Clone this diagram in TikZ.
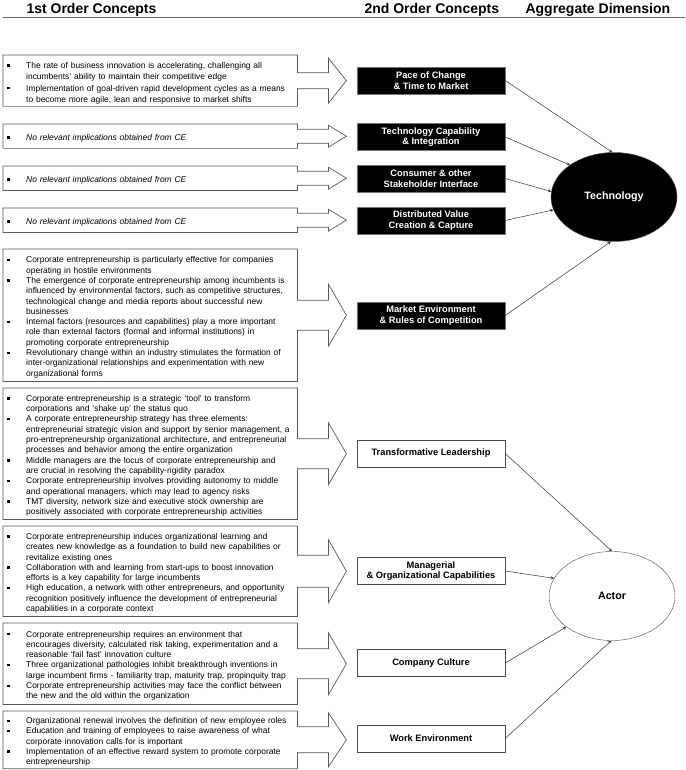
\documentclass[tikz,border=0pt]{standalone}
\usepackage{fontspec}
\setmainfont{Liberation Sans}
\usetikzlibrary{shapes.geometric, arrows, calc}

\newcommand{\bitem}[1]{\par\noindent\hangindent=19pt\hangafter=1\makebox[19pt][l]{\rule[1.6pt]{2.4pt}{2.4pt}}#1\par}
\newcommand{\blockarrow}[3]{%
  \draw[boxline] (#1.north west) -- (#1.north east) -- ($(#1.east)+(0,-#2)$)
    -- ($(#1.east)+(31,-#2)$) -- ($(#1.east)+(31,-#3)$) -- ($(#1.east)+(49,0)$)
    -- ($(#1.east)+(31,#3)$) -- ($(#1.east)+(31,#2)$) -- ($(#1.east)+(0,#2)$)
    -- (#1.south east) -- (#1.south west) -- cycle;}

\begin{document}
\begin{tikzpicture}[x=1pt, y=-1pt, >=stealth,
  boxline/.style={draw=black!65, line width=0.7pt},
  firstbox/.style={anchor=north west, text width=286pt, inner xsep=4pt, inner ysep=2pt,
    font=\fontsize{8.45}{10.3}\selectfont},
  blackbox/.style={draw=black!55, fill=black, text=white, minimum width=148pt, minimum height=27pt,
    inner sep=1pt, align=center, font=\bfseries\fontsize{9.3}{10.7}\selectfont},
  whitebox/.style={blackbox, draw=black!70, fill=white, text=black},
  dimnode/.style={ellipse, draw=black!70, minimum width=126pt, minimum height=89pt,
    font=\bfseries\fontsize{10.7}{12}\selectfont},
  link/.style={->, draw=black!80, line width=0.5pt}]
\useasboundingbox (0,0) rectangle (685,770);

% Headings
\node[anchor=base west, font=\bfseries\fontsize{14}{16}\selectfont] (head1) at (23,14) {1st Order Concepts};
\node[anchor=base west, font=\bfseries\fontsize{14}{16}\selectfont] (head2) at (361,14) {2nd Order Concepts};
\node[anchor=base west, font=\bfseries\fontsize{14}{16}\selectfont] (head3) at (522,14) {Aggregate Dimension};
\draw[black!60, line width=1pt] (3,18) -- (685,18);

% 1st order concepts, technology
\node[firstbox, minimum height=50pt, font=\fontsize{8.45}{11.3}\selectfont] (c1) at (3,55) {%
\bitem{The rate of business innovation is accelerating, challenging all\newline incumbents' ability to maintain their competitive edge}
\bitem{Implementation of goal-driven rapid development cycles as a means\newline to become more agile, lean and responsive to market shifts}};
\blockarrow{c1}{8}{22.5}
\node[firstbox, minimum height=24pt] (c2) at (3,124) {\bitem{\textit{No relevant implications obtained from CE}}};
\blockarrow{c2}{7}{11}
\node[firstbox, minimum height=24pt] (c3) at (3,166) {\bitem{\textit{No relevant implications obtained from CE}}};
\blockarrow{c3}{7}{11}
\node[firstbox, minimum height=24pt] (c4) at (3,208) {\bitem{\textit{No relevant implications obtained from CE}}};
\blockarrow{c4}{7}{11}
\node[firstbox, minimum height=132pt] (c5) at (3,249) {%
\bitem{Corporate entrepreneurship is particularly effective for companies\newline operating in hostile environments}
\bitem{The emergence of corporate entrepreneurship among incumbents is\newline influenced by environmental factors, such as competitive structures,\newline technological change and media reports about successful new\newline businesses}
\bitem{Internal factors (resources and capabilities) play a more important\newline role than external factors (formal and informal institutions) in\newline promoting corporate entrepreneurship}
\bitem{Revolutionary change within an industry stimulates the formation of\newline inter-organizational relationships and experimentation with new\newline organizational forms}};
\blockarrow{c5}{15}{31}

% 1st order concepts, actor
\node[firstbox, minimum height=131pt] (c6) at (3,388) {%
\bitem{Corporate entrepreneurship is a strategic `tool' to transform\newline corporations and `shake up' the status quo}
\bitem{A corporate entrepreneurship strategy has three elements:\newline entrepreneurial strategic vision and support by senior management, a\newline pro-entrepreneurship organizational architecture, and entrepreneurial\newline processes and behavior among the entire organization}
\bitem{Middle managers are the locus of corporate entrepreneurship and\newline are crucial in resolving the capability-rigidity paradox}
\bitem{Corporate entrepreneurship involves providing autonomy to middle\newline and operational managers, which may lead to agency risks}
\bitem{TMT diversity, network size and executive stock ownership are\newline positively associated with corporate entrepreneurship activities}};
\blockarrow{c6}{15}{31}
\node[firstbox, minimum height=90pt] (c7) at (3,526) {%
\bitem{Corporate entrepreneurship induces organizational learning and\newline creates new knowledge as a foundation to build new capabilities or\newline revitalize existing ones}
\bitem{Collaboration with and learning from start-ups to boost innovation\newline efforts is a key capability for large incumbents}
\bitem{High education, a network with other entrepreneurs, and opportunity\newline recognition positively influence the development of entrepreneurial\newline capabilities in a corporate context}};
\blockarrow{c7}{16}{31.5}
\node[firstbox, minimum height=81pt] (c8) at (3,623) {%
\bitem{Corporate entrepreneurship requires an environment that\newline encourages diversity, calculated risk taking, experimentation and a\newline reasonable `fail fast' innovation culture}
\bitem{Three organizational pathologies inhibit breakthrough inventions in\newline large incumbent firms - familiarity trap, maturity trap, propinquity trap}
\bitem{Corporate entrepreneurship activities may face the conflict between\newline the new and the old within the organization}};
\blockarrow{c8}{15}{31}
\node[firstbox, minimum height=56pt] (c9) at (3,711) {%
\bitem{Organizational renewal involves the definition of new employee roles}
\bitem{Education and training of employees to raise awareness of what\newline corporate innovation calls for is important}
\bitem{Implementation of an effective reward system to promote corporate\newline entrepreneurship}};
\blockarrow{c9}{13}{27}

% 2nd order concepts
\node[blackbox] (pace) at (431,80.5) {Pace of Change\\ \& Time to Market};
\node[blackbox] (techcap) at (431,137) {Technology Capability\\ \& Integration};
\node[blackbox] (consumer) at (431,178.5) {Consumer \& other\\ Stakeholder Interface};
\node[blackbox] (distval) at (431,220.5) {Distributed Value\\ Creation \& Capture};
\node[blackbox] (market) at (431,315.5) {Market Environment\\ \& Rules of Competition};
\node[whitebox] (leader) at (431,453.5) {Transformative Leadership};
\node[whitebox] (capab) at (431,571) {Managerial\\ \& Organizational Capabilities};
\node[whitebox] (culture) at (431,663) {Company Culture};
\node[whitebox] (workenv) at (431,738.5) {Work Environment};

% Aggregate dimensions
\node[dimnode, fill=black, text=white] (tech) at (614,197) {Technology};
\node[dimnode, fill=white] (actor) at (612,596) {Actor};

% Links
\draw[link] (pace.east) -- (tech.92);
\draw[link] (techcap.east) -- (tech.144);
\draw[link] (consumer.east) -- (tech.175);
\draw[link] (distval.east) -- (tech.192);
\draw[link] (market.east) -- (tech.266);
\draw[link] (leader.east) -- (actor.90);
\draw[link] (capab.east) -- (actor.163);
\draw[link] (culture.east) -- (actor.214);
\draw[link] (workenv.east) -- (actor.269);
\end{tikzpicture}
\end{document}
